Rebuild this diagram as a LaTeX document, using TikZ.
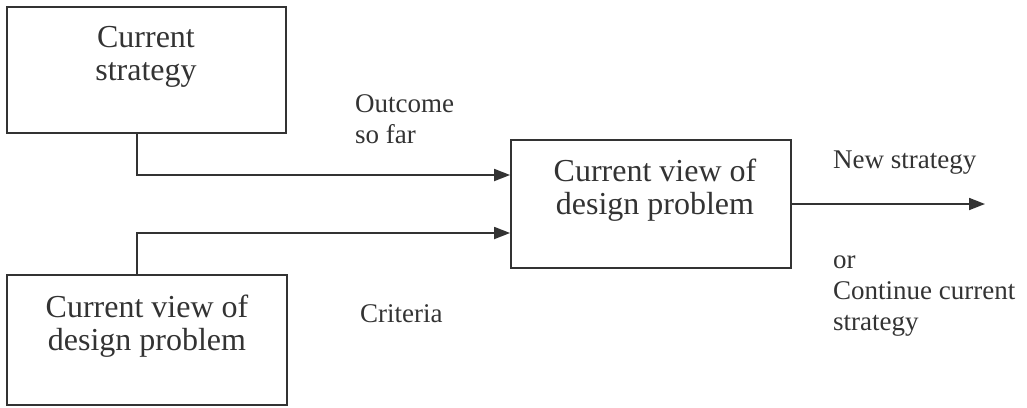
\documentclass[tikz,border=0pt]{standalone}
\usepackage{fontspec}
\setmainfont{Liberation Serif}
\usetikzlibrary{arrows.meta}
\definecolor{ink}{HTML}{333333}
\begin{document}
\begin{tikzpicture}[x=1pt,y=-1pt,
  box/.style={draw=ink,line width=1.8pt,rectangle,inner sep=0pt},
  boxtext/.style={text=ink,font=\fontsize{32}{33}\selectfont,align=center,inner sep=0pt,anchor=base},
  lbl/.style={text=ink,font=\fontsize{27}{31}\selectfont,align=left,inner sep=0pt,anchor=base west},
  arr/.style={draw=ink,line width=1.8pt,-{Triangle[length=16pt,width=12pt]}},
  con/.style={draw=ink,line width=1.8pt}]
\useasboundingbox (0,0) rectangle (1027,407);
\node[box,minimum width=279pt,minimum height=126pt] (b1) at (146.5,70) {};
\node[box,minimum width=280pt,minimum height=130pt] (b2) at (147,340) {};
\node[box,minimum width=280pt,minimum height=128pt] (b3) at (651,204) {};
\node[boxtext] (t1) at (146,80) {Current\\strategy};
\node[boxtext] (t2) at (147,350) {Current view of\\design problem};
\node[boxtext] (t3) at (655,214) {Current view of\\design problem};
\node[lbl] (l1) at (355,143) {Outcome\\so far};
\node[lbl] (l2) at (360,322) {Criteria};
\node[lbl] (l3) at (833,168) {New strategy};
\node[lbl] (l4) at (833,330) {or\\Continue current\\strategy};
\coordinate (c1) at (137,175);
\coordinate (c2) at (137,233);
\coordinate (out) at (985,204);
\draw[arr] (b1.south -| c1) |- (b3.west |- c1);
\draw[arr] (b2.north -| c2) |- (b3.west |- c2);
\draw[arr] (b3.east |- out) -- (out);
\end{tikzpicture}
\end{document}
